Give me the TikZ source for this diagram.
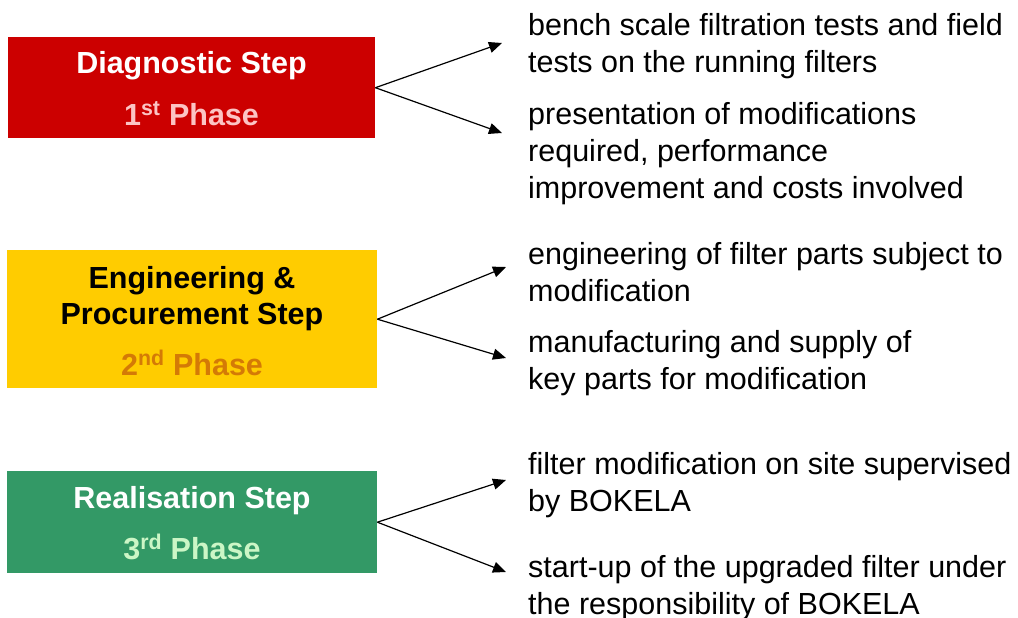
\documentclass[tikz,border=0pt]{standalone}
\usepackage{fontspec}
\setmainfont{Liberation Sans}
\usetikzlibrary{arrows.meta}
\definecolor{boxred}{RGB}{204,0,0}
\definecolor{boxyellow}{RGB}{255,204,0}
\definecolor{boxgreen}{RGB}{51,153,102}
\definecolor{phasepink}{RGB}{252,196,196}
\definecolor{phaseorange}{RGB}{212,122,6}
\definecolor{phasegreen}{RGB}{204,246,198}
\tikzset{
  stepbox/.style={rectangle, draw=none, inner sep=0pt, anchor=north west},
  title/.style={font=\fontsize{30.5}{37}\selectfont\bfseries, inner sep=0pt, anchor=base},
  item/.style={font=\fontsize{30.5}{37}\selectfont, inner sep=0pt, anchor=base west, align=left},
  conn/.style={line width=1.2pt, -{Triangle[length=13pt,width=11pt]}},
}
\begin{document}
\begin{tikzpicture}[x=1pt,y=-1pt]
\useasboundingbox (0,0) rectangle (1018,618);
% boxes
\node[stepbox, fill=boxred, minimum width=367pt, minimum height=101pt] (b1) at (8,37) {};
\node[stepbox, fill=boxyellow, minimum width=370pt, minimum height=138pt] (b2) at (7,250) {};
\node[stepbox, fill=boxgreen, minimum width=370pt, minimum height=102pt] (b3) at (7,471) {};
% titles
\node[title, text=white] (t1) at (191.5,74) {Diagnostic Step};
\node[title, text=phasepink] (p1) at (191.5,125) {1\textsuperscript{st} Phase};
\node[title, text=black] (t2a) at (192,288) {Engineering \&};
\node[title, text=black] (t2b) at (192,324) {Procurement Step};
\node[title, text=phaseorange] (p2) at (192,375) {2\textsuperscript{nd} Phase};
\node[title, text=white] (t3) at (192,508) {Realisation Step};
\node[title, text=phasegreen] (p3) at (192,559) {3\textsuperscript{rd} Phase};
% items (base anchor = last line's baseline)
\node[item] (i1) at (528,73) {bench scale filtration tests and field\\tests on the running filters};
\node[item] (i2) at (528,198) {presentation of modifications\\required, performance\\improvement and costs involved};
\node[item] (i3) at (528,301) {engineering of filter parts subject to\\modification};
\node[item] (i4) at (528,389) {manufacturing and supply of\\key parts for modification};
\node[item] (i5) at (528,511) {filter modification on site supervised\\by BOKELA};
\node[item] (i6) at (528,614) {start-up of the upgraded filter under\\the responsibility of BOKELA};
% arrow ends
\coordinate (e1) at (502,43);
\coordinate (e2) at (502,133);
\coordinate (e3) at (506,267);
\coordinate (e4) at (506,358);
\coordinate (e5) at (506,480);
\coordinate (e6) at (506,572);
\draw[conn] (b1.east) -- (e1);
\draw[conn] (b1.east) -- (e2);
\draw[conn] (b2.east) -- (e3);
\draw[conn] (b2.east) -- (e4);
\draw[conn] (b3.east) -- (e5);
\draw[conn] (b3.east) -- (e6);
\end{tikzpicture}
\end{document}
